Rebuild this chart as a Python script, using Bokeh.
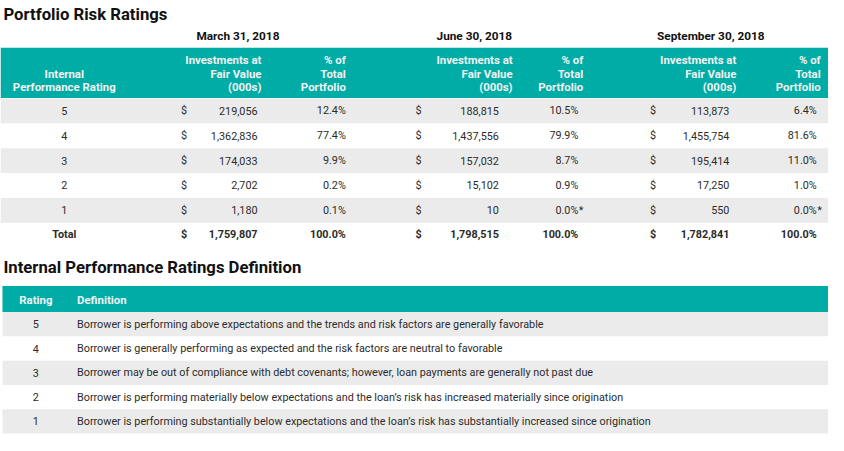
from bokeh.plotting import figure
from bokeh.models import Range1d, ColumnDataSource
from bokeh.core.properties import value
from bokeh.embed import file_html
from bokeh.resources import INLINE

# ---------------- data ----------------
title1 = "Portfolio Risk Ratings"
title2 = "Internal Performance Ratings Definition"
periods = ["March 31, 2018", "June 30, 2018", "September 30, 2018"]
ratings = ["5", "4", "3", "2", "1"]
inv_mar = [219056, 1362836, 174033, 2702, 1180]
pct_mar = [12.4, 77.4, 9.9, 0.2, 0.1]
inv_jun = [188815, 1437556, 157032, 15102, 10]
pct_jun = [10.5, 79.9, 8.7, 0.9, 0.0]
inv_sep = [113873, 1455754, 195414, 17250, 550]
pct_sep = [6.4, 81.6, 11.0, 1.0, 0.0]
star_mar = [False, False, False, False, False]
star_jun = [False, False, False, False, True]
star_sep = [False, False, False, False, True]
total_inv = [1759807, 1798515, 1782841]
total_pct = [100.0, 100.0, 100.0]
head_rating = ["Internal", "Performance Rating"]
head_inv = ["Investments at", "Fair Value", "(000s)"]
head_pct = ["% of", "Total", "Portfolio"]
def_ratings = ["5", "4", "3", "2", "1"]
definitions = [
    "Borrower is performing above expectations and the trends and risk factors are generally favorable",
    "Borrower is generally performing as expected and the risk factors are neutral to favorable",
    "Borrower may be out of compliance with debt covenants; however, loan payments are generally not past due",
    "Borrower is performing materially below expectations and the loan\u2019s risk has increased materially since origination",
    "Borrower is performing substantially below expectations and the loan\u2019s risk has substantially increased since origination",
]

# ---------------- styling / layout ----------------
TEAL = "#00ADA6"
GRAY = "#EBEBEB"
DARK = "#2b2b2b"
HEAD_TXT = "#F2F2F2"
FONT = value("Roboto")
W, H = 844, 451
BODY = "10.8px"
HEAD = "11.4px"

p = figure(width=828, height=435, x_range=Range1d(0, W), y_range=Range1d(H, 0),
           output_backend="svg", toolbar_location=None, min_border=0,
           outline_line_color=None, background_fill_color="white")
p.axis.visible = False
p.grid.visible = False


def txt(x, y, t, align="left", size=BODY, style="normal", color=DARK):
    src = ColumnDataSource(dict(x=x, y=y, t=t))
    p.text("x", "y", "t", source=src, text_align=align, text_baseline="middle",
           text_font=FONT, text_font_size=size, text_font_style=style, text_color=color)


# Titles
txt([3], [14], [title1], size="16.7px", style="bold", color="#111111")
txt([3], [277], [title2], size="16.7px", style="bold", color="#111111")

# Period headers
period_cx = [242, 483, 724]
txt(period_cx, [37] * 3, periods, align="center", size="11.8px", style="bold", color="#111111")

# Table 1 header band
p.quad(left=[0], right=[W], top=[49], bottom=[101], fill_color=TEAL, line_color=None)
line_y3 = [62, 76, 90]
txt([65, 65], [76, 90], head_rating, align="center", size=HEAD, style="bold", color=HEAD_TXT)
inv_right = [266, 522, 750]
pct_right = [352, 594, 836]
for xr in inv_right:
    txt([xr] * 3, line_y3, head_inv, align="right", size=HEAD, style="bold", color=HEAD_TXT)
for xr in pct_right:
    txt([xr] * 3, line_y3, head_pct, align="right", size=HEAD, style="bold", color=HEAD_TXT)

# Table 1 rows
row_top = 101.5
row_h = 25.8
n = len(ratings)
tops = [row_top + i * row_h for i in range(n)]
ctrs = [t + row_h / 2 for t in tops]
gray_idx = [i for i in range(n) if i % 2 == 0]
p.quad(left=[0] * len(gray_idx), right=[W] * len(gray_idx),
       top=[tops[i] for i in gray_idx], bottom=[tops[i] + row_h for i in gray_idx],
       fill_color=GRAY, line_color=None)

txt([65] * n, ctrs, ratings, align="center")
dollar_x = [184, 423, 662]
val_right = [262, 508, 743]
pctv_right = [352, 589, 832]
invs = [inv_mar, inv_jun, inv_sep]
pcts = [pct_mar, pct_jun, pct_sep]
stars = [star_mar, star_jun, star_sep]
for k in range(3):
    txt([dollar_x[k]] * n, ctrs, ["$"] * n)
    txt([val_right[k]] * n, ctrs, [f"{v:,}" for v in invs[k]], align="right")
    txt([pctv_right[k]] * n, ctrs, [f"{v:.1f}%" for v in pcts[k]], align="right")
    sx = [pctv_right[k] + 0.5 for i in range(n) if stars[k][i]]
    sy = [ctrs[i] for i in range(n) if stars[k][i]]
    txt(sx, sy, ["*"] * len(sx))

# Total row
ty = tops[-1] + row_h + 12
txt([65], [ty], ["Total"], align="center", style="bold")
for k in range(3):
    txt([dollar_x[k]], [ty], ["$"], style="bold")
    txt([val_right[k]], [ty], [f"{total_inv[k]:,}"], align="right", style="bold")
    txt([pctv_right[k]], [ty], [f"{total_pct[k]:.1f}%"], align="right", style="bold")

# Table 2
p.quad(left=[2], right=[W], top=[296], bottom=[323], fill_color=TEAL, line_color=None)
txt([36], [310], ["Rating"], align="center", size=HEAD, style="bold", color=HEAD_TXT)
txt([78], [310], ["Definition"], size=HEAD, style="bold", color=HEAD_TXT)
r2_top = 323
r2_h = 25.2
m = len(def_ratings)
tops2 = [r2_top + i * r2_h for i in range(m)]
ctrs2 = [t + r2_h / 2 for t in tops2]
g2 = [i for i in range(m) if i % 2 == 0]
p.quad(left=[2] * len(g2), right=[W] * len(g2),
       top=[tops2[i] for i in g2], bottom=[tops2[i] + r2_h for i in g2],
       fill_color=GRAY, line_color=None)
txt([36] * m, ctrs2, def_ratings, align="center")
txt([78] * m, ctrs2, definitions)

open("out.html", "w").write(file_html(p, INLINE))
